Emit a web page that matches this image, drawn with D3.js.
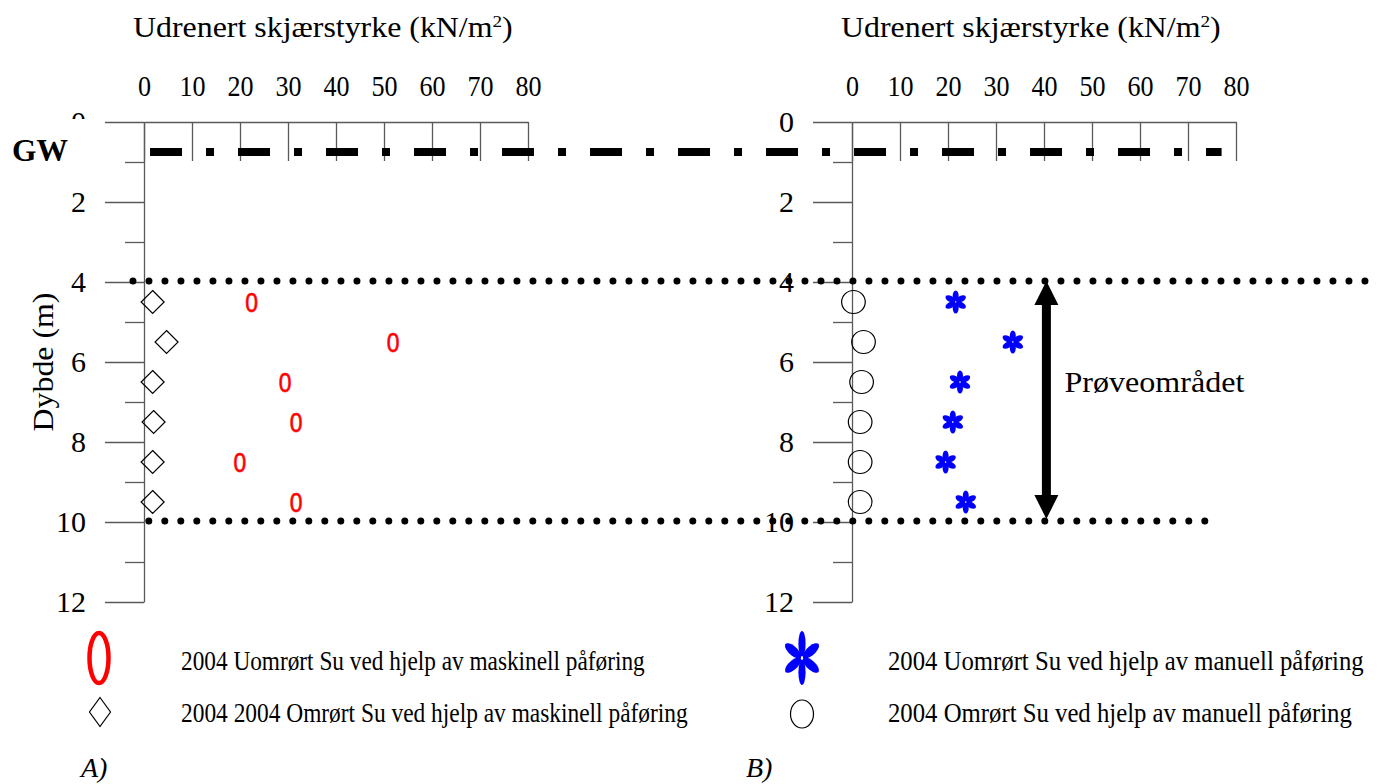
<!DOCTYPE html>
<html><head><meta charset="utf-8">
<script src="https://cdn.jsdelivr.net/npm/d3@7"></script>
<style>body{margin:0;background:#fff}svg{display:block}</style>
</head><body><svg id="c" width="1383" height="784" font-family="Liberation Serif"></svg>
<script>
// ---------- data ----------
const depths = [4.5, 5.5, 6.5, 7.5, 8.5, 9.5];
const maskUomrort = [22.4, 51.9, 29.4, 31.7, 20.0, 31.7];   // red "0"
const maskOmrort  = [1.8, 4.7, 1.8, 2.0, 1.8, 1.8];         // diamonds
const manUomrort  = [21.6, 33.5, 22.5, 21.0, 19.5, 23.7];   // blue asterisks
const manOmrort   = [0.3, 2.4, 2.0, 1.7, 1.7, 1.7];         // circles
const xTicks = [0, 10, 20, 30, 40, 50, 60, 70, 80];
const yMajor = [0, 2, 4, 6, 8, 10, 12];
const yMinor = [1, 3, 5, 7, 9, 11];
const xTitle = "Udrenert skjærstyrke (kN/m";
const yTitle = "Dybde (m)";
const legendA = ["2004 Uomrørt Su ved hjelp av maskinell påføring", "2004 2004 Omrørt Su ved hjelp av maskinell påføring"];
const legendB = ["2004 Uomrørt Su ved hjelp av manuell påføring", "2004 Omrørt Su ved hjelp av manuell påføring"];
const panelLabels = ["A)", "B)"];
const gwLabel = "GW";
const gwDepth = 0.75;
const zoneLabel = "Prøveområdet";
const zoneTop = 4, zoneBottom = 10;

// ---------- scales ----------
const svg = d3.select("#c");
svg.append("rect").attr("width",1383).attr("height",784).attr("fill","#fff");
const y = d3.scaleLinear([0, 12], [122, 602]);
const xL = d3.scaleLinear([0, 80], [144, 528]);
const xR = d3.scaleLinear([0, 80], [852, 1236]);
const AX = "#5a5a5a";

function fitText(parent, x0, y0, str, size, width, opts = {}) {
  const t = parent.append("text").attr("font-size", size)
    .attr("font-family", "Liberation Serif")
    .attr("text-anchor", opts.anchor || "start")
    .attr("font-weight", opts.weight || null)
    .attr("font-style", opts.style || null)
    .attr("fill", opts.fill || "#000");
  if (opts.sup) {
    t.append("tspan").text(str);
    t.append("tspan").attr("font-size", size * 0.6).attr("dy", -size * 0.36).text(opts.sup);
    t.append("tspan").attr("dy", size * 0.36).text(opts.after || "");
  } else t.text(str);
  const w = t.node().getComputedTextLength();
  const s = width ? width / w : 1;
  t.attr("transform", `translate(${x0},${y0}) ${opts.rotate ? "rotate(" + opts.rotate + ")" : ""} scale(${s},1)`);
  return t;
}

function styleAxis(g) {
  g.attr("font-family", "Liberation Serif").attr("font-size", 29);
  g.selectAll("line,path").attr("stroke", AX).attr("stroke-width", 1.3);
  g.selectAll("text").attr("fill", "#000");
}

function drawAxes(x) {
  const g = svg.append("g");
  g.append("g").attr("transform", `translate(0,${y(0)})`)
    .call(d3.axisBottom(x).tickValues(xTicks).tickSize(39).tickSizeOuter(0).tickFormat(""))
    .call(styleAxis);
  g.append("g").attr("transform", `translate(0,${y(0)})`)
    .call(d3.axisTop(x).tickValues(xTicks).tickSize(0).tickPadding(26))
    .call(a => a.select(".domain").remove()).call(styleAxis)
    .call(a => a.selectAll("text").attr("transform", "scale(0.9,1)"));
  g.append("g").attr("transform", `translate(${x(0)},0)`)
    .call(d3.axisLeft(y).tickValues(yMajor).tickSize(39).tickPadding(19).tickSizeOuter(0))
    .call(styleAxis).call(a => a.attr("font-size", 30));
  g.append("g").attr("transform", `translate(${x(0)},0)`)
    .call(d3.axisLeft(y).tickValues(yMinor).tickSize(19).tickSizeOuter(0).tickFormat(""))
    .call(a => a.select(".domain").remove()).call(styleAxis);
  fitText(g, x(0) - 11, 37, xTitle, 29, 380, { sup: "2", after: ")" });
}
drawAxes(xL);
drawAxes(xR);

// white box covering the left "0" label, then GW label
svg.append("rect").attr("x", 0).attr("y", 119).attr("width", 100).attr("height", 60).attr("fill", "#fff");
fitText(svg, 12, 161, gwLabel, 31, 56, { weight: "bold" });

// y title
fitText(svg, 53, 362, yTitle, 30, 139, { anchor: "middle", rotate: -90 });

// GW dash-dot line
svg.append("line").attr("x1", xL(1.25)).attr("x2", xR(77)).attr("y1", y(gwDepth)).attr("y2", y(gwDepth))
  .attr("stroke", "#000").attr("stroke-width", 8).attr("stroke-dasharray", "32,24,8,24");

// dotted reference lines
const refLines = [{ d: zoneTop, from: -2.3, to: 107.5 }, { d: zoneBottom, from: 1, to: 74.2 }];
svg.selectAll(".ref").data(refLines).join("line")
  .attr("x1", d => xL(d.from)).attr("x2", d => xR(d.to))
  .attr("y1", d => y(d.d) - 1).attr("y2", d => y(d.d) - 1)
  .attr("stroke", "#000").attr("stroke-width", 7).attr("stroke-linecap", "round")
  .attr("stroke-dasharray", "0,16");

// arrow
const ax = xR(40.5);
const ag = svg.append("g");
ag.append("line").attr("x1", ax).attr("x2", ax).attr("y1", y(zoneTop) + 20).attr("y2", y(zoneBottom) - 20)
  .attr("stroke", "#000").attr("stroke-width", 9);
ag.append("path").attr("d", `M${ax},${y(zoneTop) - 1} l12,24 l-24,0 Z`).attr("fill", "#000");
ag.append("path").attr("d", `M${ax},${y(zoneBottom) - 3} l12,-24 l-24,0 Z`).attr("fill", "#000");
fitText(svg, ax + 18, 392, zoneLabel, 29, 180);

// ---------- markers ----------
const diamond = (s, sy) => `M0,${-sy} L${s},0 L0,${sy} L${-s},0 Z`;
function asterisk(g, r, w) {
  [90, 30, 150, 270, 210, 330].forEach(a => {
    g.append("ellipse").attr("cx", r * 0.53).attr("cy", 0).attr("rx", r * 0.47).attr("ry", w)
      .attr("transform", `rotate(${-a})`).attr("fill", "#0000ff");
  });
}

// left panel
svg.selectAll(".dia").data(depths).join("path")
  .attr("transform", (d, i) => `translate(${xL(maskOmrort[i])},${y(d)})`)
  .attr("d", diamond(11.5, 11.5)).attr("fill", "none").attr("stroke", "#000").attr("stroke-width", 1.2);
svg.selectAll(".zero").data(depths).join("text")
  .attr("transform", (d, i) => `translate(${xL(maskUomrort[i])},${y(d) + 9.5}) scale(0.85,1)`)
  .attr("text-anchor", "middle").attr("font-family", "Liberation Sans").attr("font-size", 27)
  .attr("fill", "#ff0000").attr("stroke", "#ff0000").attr("stroke-width", 0.6).text("0");

// right panel
svg.selectAll(".circ").data(depths).join("ellipse")
  .attr("cx", (d, i) => xR(manOmrort[i])).attr("cy", d => y(d))
  .attr("rx", 11.8).attr("ry", 11.5).attr("fill", "none").attr("stroke", "#000").attr("stroke-width", 1.2);
depths.forEach((d, i) => {
  const g = svg.append("g").attr("transform", `translate(${xR(manUomrort[i])},${y(d)})`);
  asterisk(g, 11.5, 3);
});

// ---------- legends ----------
svg.append("ellipse").attr("cx", 99).attr("cy", 658).attr("rx", 9.5).attr("ry", 25)
  .attr("fill", "none").attr("stroke", "#ff0000").attr("stroke-width", 4.5);
svg.append("path").attr("transform", "translate(100,712)").attr("d", diamond(10.5, 14.5))
  .attr("fill", "none").attr("stroke", "#000").attr("stroke-width", 1.2);
const lg = svg.append("g").attr("transform", "translate(802,658) scale(0.72,1)");
asterisk(lg, 27, 5);
svg.append("ellipse").attr("cx", 802).attr("cy", 714).attr("rx", 11.5).attr("ry", 14)
  .attr("fill", "none").attr("stroke", "#000").attr("stroke-width", 1.2);

const legW = [[464, 507], [476, 464]];
legendA.forEach((s, i) => fitText(svg, 181, 670 + i * 52, s, 27, legW[0][i]));
legendB.forEach((s, i) => fitText(svg, 888, 670 + i * 52, s, 27, legW[1][i]));

fitText(svg, 81, 777, panelLabels[0], 28, null, { style: "italic" });
fitText(svg, 746, 777, panelLabels[1], 28, null, { style: "italic" });
</script></body></html>
